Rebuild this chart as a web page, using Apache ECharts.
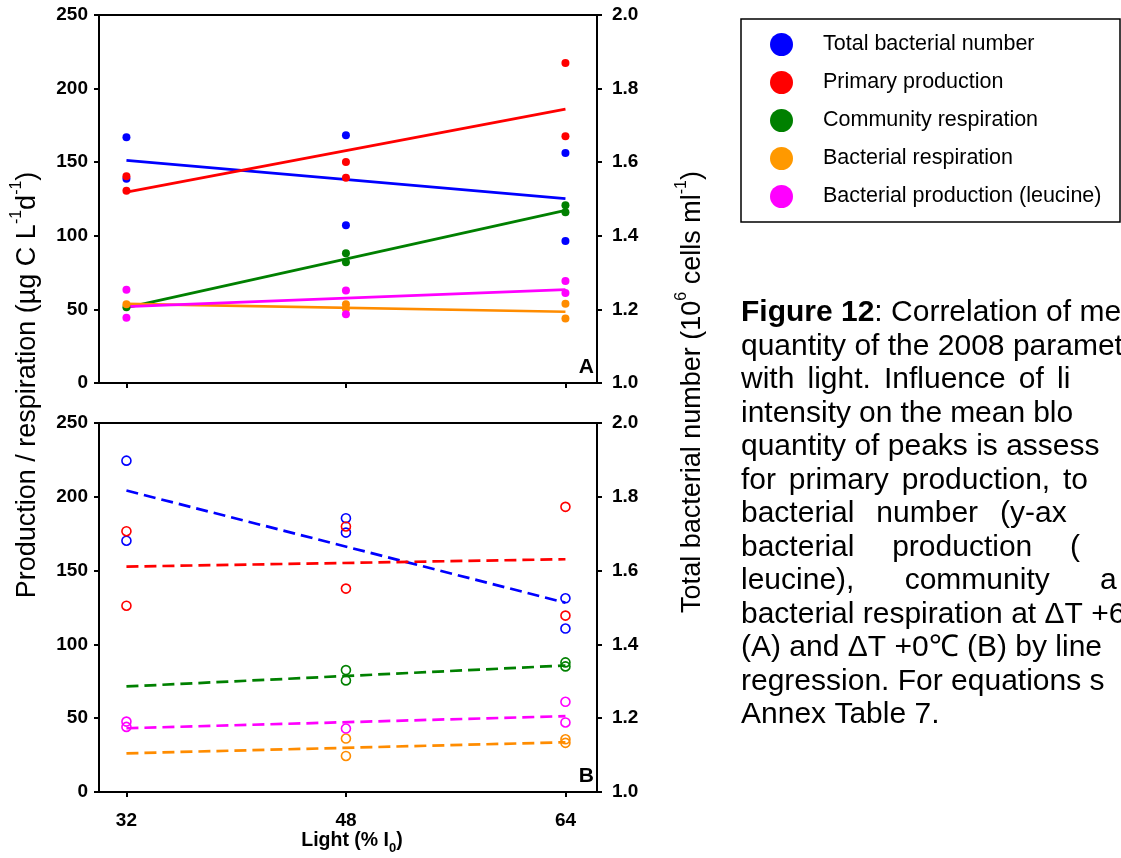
<!DOCTYPE html>
<html><head><meta charset="utf-8">
<script src="https://cdn.jsdelivr.net/npm/echarts@6/dist/echarts.min.js"></script>
<style>html,body{margin:0;padding:0;background:#fff}#c{width:1121px;height:858px}</style>
</head><body><div id="c"></div>
<script>
// ---------- data ----------
const lightTicks = [32, 48, 64];
const seriesNames = ['Total bacterial number','Primary production','Community respiration','Bacterial respiration','Bacterial production (leucine)'];
const seriesColors = ['#0000ff','#ff0000','#008000','#ff8c00','#ff00ff'];
const legendColors = ['#0000ff','#ff0000','#008000','#ff9900','#ff00ff'];

// Panel A (dT +6)
const aTotalBact = [[32,1.668],[32,1.555],[48,1.673],[48,1.429],[64,1.625],[64,1.386]];
const aPrimProd  = [[32,140.5],[32,130.6],[48,150.2],[48,139.4],[64,217.4],[64,167.6]];
const aCommResp  = [[32,51.5],[48,88.2],[48,82.1],[64,120.8],[64,116.0]];
const aBactResp  = [[32,53.5],[48,53.5],[48,50.5],[64,53.8],[64,43.9]];
const aBactProd  = [[32,63.4],[32,44.3],[48,62.9],[48,46.7],[64,69.3],[64,61.2]];
const aTotalBactFit = [[32,1.605],[64,1.501]];
const aPrimProdFit  = [[32,129.7],[64,186.1]];
const aCommRespFit  = [[32,51.2],[64,117.3]];
const aBactRespFit  = [[32,53.7],[64,48.4]];
const aBactProdFit  = [[32,51.9],[64,63.4]];

// Panel B (dT +0)
const bTotalBact = [[32,1.898],[32,1.681],[48,1.742],[48,1.703],[64,1.525],[64,1.443]];
const bPrimProd  = [[32,176.7],[32,126.2],[48,179.9],[48,137.8],[64,193.2],[64,119.5]];
const bCommResp  = [[48,82.6],[48,75.6],[64,87.8],[64,85.1]];
const bBactResp  = [[48,36.2],[48,24.4],[64,35.7],[64,33.3]];
const bBactProd  = [[32,47.7],[32,44.1],[48,43.0],[64,61.1],[64,47.1]];
const bTotalBactFit = [[32,1.817],[64,1.513]];
const bPrimProdFit  = [[32,152.7],[64,157.7]];
const bCommRespFit  = [[32,71.5],[64,85.7]];
const bBactRespFit  = [[32,26.2],[64,33.7]];
const bBactProdFit  = [[32,43.2],[64,51.4]];

const captionLines = [
  ['Figure 12', ': Correlation of me'],
  'quantity of the 2008 paramet',
  ['with','light.','Influence','of','li'],
  ['intensity','on','the','mean','blo'],
  'quantity of peaks is assess',
  ['for','primary','production,','to'],
  ['bacterial','number','(y-ax'],
  ['bacterial','production','('],
  ['leucine),','community','a'],
  'bacterial respiration at \u0394T +6',
  '(A) and \u0394T +0\u2103 (B) by line',
  'regression. For equations s',
  'Annex Table 7.'
];
// ---------- layout ----------
const FONT = '"Liberation Sans", Arial, sans-serif';
const GL = 99, GW = 498;
const gridsTop = [15, 423], gridH = [368, 369];
const capX = 741, capY0 = 313, capDY = 33.5, capSize = 30;
const lastWordX = {2:1057, 3:1013, 5:1063, 6:1000, 7:1070, 8:1100};

const chart = echarts.init(document.getElementById('c'), null, {renderer:'canvas'});
const axisLine = {show:true, lineStyle:{color:'#000', width:2}};
const tickStyle = {show:true, inside:false, length:5, lineStyle:{color:'#000', width:2}};
const labelStyle = {color:'#000', fontSize:19, fontWeight:'bold', fontFamily:FONT};

function xAxis(i, labels){
  return {type:'value', gridIndex:i, min:30, max:66.3, axisLine,
    axisTick:Object.assign({customValues:lightTicks}, tickStyle),
    axisLabel:Object.assign({show:labels, customValues:lightTicks, margin:19}, labelStyle),
    splitLine:{show:false}};
}
function yLeft(i){
  return {type:'value', gridIndex:i, position:'left', min:0, max:250, interval:50, axisLine,
    axisTick:tickStyle, axisLabel:Object.assign({margin:11}, labelStyle), splitLine:{show:false}};
}
function yRight(i){
  return {type:'value', gridIndex:i, position:'right', min:1, max:2, interval:0.2, axisLine,
    axisTick:tickStyle, axisLabel:Object.assign({margin:15, formatter:v=>v.toFixed(1)}, labelStyle), splitLine:{show:false}};
}
const series = [];
function addPanel(p, pts, fits, dashed){
  pts.forEach((d,k)=>{
    const yIdx = p*2 + (k===0 ? 1 : 0);
    series.push({type:'line', name:seriesNames[k]+' fit', xAxisIndex:p, yAxisIndex:yIdx, data:fits[k],
      symbol:'none', silent:true, z:2,
      lineStyle:{color:seriesColors[k], width:2.7, opacity:1, type: dashed ? [12,6] : 'solid'}});
    series.push({type:'scatter', name:seriesNames[k], xAxisIndex:p, yAxisIndex:yIdx, data:d,
      symbol:'circle', symbolSize: dashed ? 9 : 8, z:3,
      itemStyle: dashed ? {color:'rgba(0,0,0,0)', borderColor:seriesColors[k], borderWidth:1.6, opacity:1}
                        : {color:seriesColors[k], opacity:1}});
  });
}
addPanel(0, [aTotalBact,aPrimProd,aCommResp,aBactResp,aBactProd],
  [aTotalBactFit,aPrimProdFit,aCommRespFit,aBactRespFit,aBactProdFit], false);
addPanel(1, [bTotalBact,bPrimProd,bCommResp,bBactResp,bBactProd],
  [bTotalBactFit,bPrimProdFit,bCommRespFit,bBactRespFit,bBactProdFit], true);

// caption graphics
const mctx = document.createElement('canvas').getContext('2d');
function textW(s, weight){ mctx.font = (weight||'normal')+' '+capSize+'px '+FONT; return mctx.measureText(s).width; }
const graphics = [];
captionLines.forEach((ln, i)=>{
  const y = capY0 + i*capDY;
  if (i===0){
    graphics.push({type:'text', x:capX, y:y, style:{
      text:'{b|'+ln[0]+'}{r|'+ln[1]+'}', verticalAlign:'middle', rich:{b:{fontWeight:'bold',fontSize:capSize,fontFamily:FONT,fill:'#000'},
      r:{fontSize:capSize,fontFamily:FONT,fill:'#000'}}}});
  } else if (typeof ln === 'string'){
    graphics.push({type:'text', x:capX, y:y, style:{text:ln, fontSize:capSize, fontFamily:FONT, fill:'#000', verticalAlign:'middle'}});
  } else {
    const total = ln.slice(0,-1).reduce((a,w)=>a+textW(w),0);
    const gap = Math.max(8, (lastWordX[i] - capX - total)/(ln.length-1));
    let x = capX;
    ln.forEach(w=>{
      graphics.push({type:'text', x:x, y:y, style:{text:w, fontSize:capSize, fontFamily:FONT, fill:'#000', verticalAlign:'middle'}});
      x += textW(w) + gap;
    });
  }
});
// legend box
graphics.push({type:'rect', shape:{x:741, y:19, width:379, height:203}, style:{fill:'none', stroke:'#000', lineWidth:1.5}, silent:true});
// panel letters
graphics.push({type:'text', x:GL+GW-3, y:gridsTop[0]+gridH[0]-16, style:{text:'A', fontSize:21, fontWeight:'bold', fontFamily:FONT, fill:'#000', align:'right', verticalAlign:'middle'}});
graphics.push({type:'text', x:GL+GW-3, y:gridsTop[1]+gridH[1]-16, style:{text:'B', fontSize:21, fontWeight:'bold', fontFamily:FONT, fill:'#000', align:'right', verticalAlign:'middle'}});
// axis titles
const titleSize = 27;
graphics.push({type:'text', x:25, y:385, rotation:Math.PI/2, style:{
  text:'{a|Production / respiration (\u00b5g C L}{s|-1}{a|d}{s|-1}{a|)}', align:'center', verticalAlign:'middle',
  rich:{a:{fontSize:titleSize, fontFamily:FONT, fill:'#000', lineHeight:32, verticalAlign:'bottom'},
        s:{fontSize:16, fontFamily:FONT, fill:'#000', lineHeight:32, verticalAlign:'top'}}}});
graphics.push({type:'text', x:690, y:392, rotation:Math.PI/2, style:{
  text:'{a|Total bacterial number (10}{s|6}{a| cells ml}{s|-1}{a|)}', align:'center', verticalAlign:'middle',
  rich:{a:{fontSize:titleSize, fontFamily:FONT, fill:'#000', lineHeight:32, verticalAlign:'bottom'},
        s:{fontSize:16, fontFamily:FONT, fill:'#000', lineHeight:32, verticalAlign:'top'}}}});
graphics.push({type:'text', x:352, y:843, style:{
  text:'{a|Light (% I}{s|0}{a|)}', align:'center', verticalAlign:'middle',
  rich:{a:{fontSize:19.5, fontWeight:'bold', fontFamily:FONT, fill:'#000', lineHeight:24, verticalAlign:'top'},
        s:{fontSize:13, fontWeight:'bold', fontFamily:FONT, fill:'#000', lineHeight:24, verticalAlign:'bottom'}}}});

const option = {
  animation:false,
  backgroundColor:'#fff',
  grid:[0,1].map(i=>({left:GL, top:gridsTop[i], width:GW, height:gridH[i], show:true, borderColor:'#000', borderWidth:2, containLabel:false})),
  xAxis:[xAxis(0,false), xAxis(1,true)],
  yAxis:[yLeft(0), yRight(0), yLeft(1), yRight(1)],
  legend:{orient:'vertical', left:770, top:33, padding:0, itemGap:15, itemWidth:23, itemHeight:23,
    selectedMode:false,
    textStyle:{fontSize:21.5, fontFamily:FONT, color:'#000', padding:[3,0,0,25]},
    data: seriesNames.map((n,k)=>({name:n, icon:'circle', itemStyle:{color:legendColors[k], borderWidth:0, opacity:1}}))},
  series,
  graphic:graphics
};
chart.setOption(option);
</script></body></html>
